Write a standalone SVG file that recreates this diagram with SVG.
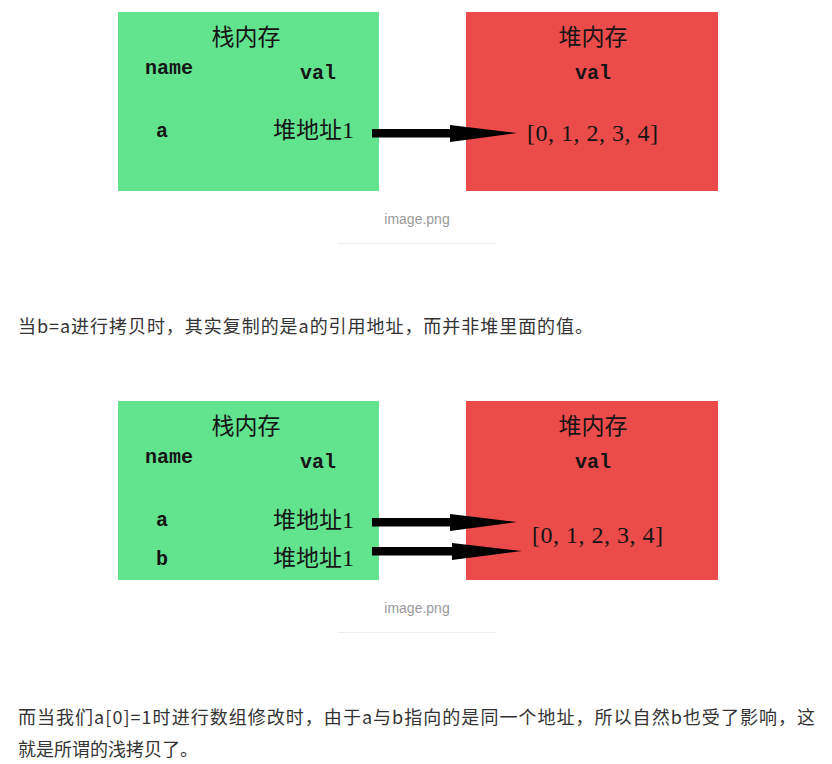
<svg xmlns="http://www.w3.org/2000/svg" width="832" height="764" viewBox="0 0 832 764">
  <defs>
    <style>
      .stack { fill: #62e38d; }
      .heap { fill: #ec4b4b; }
      .title { font-family: "Noto Sans CJK SC", sans-serif; font-size: 23px; fill: #141414; text-anchor: middle; }
      .mono { font-family: "Liberation Mono", monospace; font-size: 20px; font-weight: bold; fill: #141414; }
      .addr { font-family: "Noto Sans CJK SC", sans-serif; font-size: 23px; fill: #141414; }
      .digit { font-family: "Liberation Serif", serif; font-size: 24px; }
      .arr { font-family: "Liberation Serif", serif; font-size: 24px; fill: #141414; }
      .caption { font-family: "Liberation Sans", "Noto Sans CJK SC", sans-serif; font-size: 14px; fill: #999999; text-anchor: middle; }
      .rule { stroke: #eeeeee; stroke-width: 1; }
      .body { font-family: "Noto Sans CJK SC", sans-serif; font-size: 18px; fill: #333333; }
      .pointer { fill: #000000; }
    </style>
  </defs>

  <!-- first figure: a single reference -->
  <g id="stack1">
    <rect class="stack" x="118" y="12" width="261" height="179"/>
    <text class="title" x="246" y="45">栈内存</text>
    <text class="mono" x="145" y="74">name</text>
    <text class="mono" x="300" y="79">val</text>
    <text class="mono" x="156" y="137">a</text>
    <text class="addr" x="273" y="138">堆地址<tspan class="digit">1</tspan></text>
  </g>
  <g id="heap1">
    <rect class="heap" x="466" y="12" width="252" height="179"/>
    <text class="title" x="593" y="45">堆内存</text>
    <text class="mono" x="575" y="79">val</text>
    <text class="arr" x="527" y="141" textLength="131">[0, 1, 2, 3, 4]</text>
  </g>
  <g id="connectors1">
    <polygon class="pointer" points="372,129 450,129 450,125 517,133 450,142 450,137.5 372,137.5"/>
  </g>
  <g id="caption1">
    <text class="caption" x="417" y="224">image.png</text>
    <line class="rule" x1="338" y1="243.5" x2="496" y2="243.5"/>
  </g>

  <text class="body" x="18" y="333" textLength="575">当b=a进行拷贝时，其实复制的是a的引用地址，而并非堆里面的值。</text>

  <!-- second figure: two names sharing one address -->
  <g id="stack2">
    <rect class="stack" x="118" y="401" width="261" height="179"/>
    <text class="title" x="246" y="434">栈内存</text>
    <text class="mono" x="145" y="463">name</text>
    <text class="mono" x="300" y="468">val</text>
    <text class="mono" x="156" y="526">a</text>
    <text class="addr" x="273" y="528">堆地址<tspan class="digit">1</tspan></text>
    <text class="mono" x="156" y="565">b</text>
    <text class="addr" x="273" y="566">堆地址<tspan class="digit">1</tspan></text>
  </g>
  <g id="heap2">
    <rect class="heap" x="466" y="401" width="252" height="179"/>
    <text class="title" x="593" y="434">堆内存</text>
    <text class="mono" x="575" y="468">val</text>
    <text class="arr" x="532" y="543" textLength="131">[0, 1, 2, 3, 4]</text>
  </g>
  <g id="connectors2">
    <polygon class="pointer" points="372,518 450,518 450,514 517,522 450,531 450,526.5 372,526.5"/>
    <polygon class="pointer" points="372,547 452,547 452,543 522,551 452,560 452,555.5 372,555.5"/>
  </g>
  <g id="caption2">
    <text class="caption" x="417" y="613">image.png</text>
    <line class="rule" x1="338" y1="632.5" x2="496" y2="632.5"/>
  </g>

  <text class="body" x="18" y="724" textLength="797">而当我们a[0]=1时进行数组修改时，由于a与b指向的是同一个地址，所以自然b也受了影响，这</text>
  <text class="body" x="18" y="756">就是所谓的浅拷贝了。</text>
</svg>
